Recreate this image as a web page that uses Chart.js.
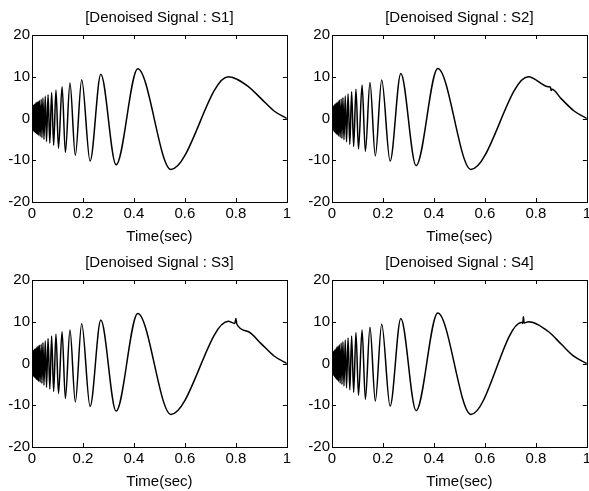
<!DOCTYPE html>
<html>
<head>
<meta charset="utf-8">
<script src="https://cdn.jsdelivr.net/npm/chart.js@4.4.1/dist/chart.umd.min.js"></script>
<style>
  body { margin: 0; background: #fff; overflow: hidden; }
  .panel { position: absolute; width: 294px; height: 246px; }
</style>
</head>
<body>
<div class="panel" style="left:0;top:0"><canvas id="c1"></canvas></div>
<div class="panel" style="left:300px;top:0"><canvas id="c2"></canvas></div>
<div class="panel" style="left:0;top:245px"><canvas id="c3"></canvas></div>
<div class="panel" style="left:300px;top:245px"><canvas id="c4"></canvas></div>
<script>
// times: peaks and troughs, plus a few tail points
const time = [0, 0.0006, 0.002, 0.003, 0.0045, 0.006, 0.0075, 0.009, 0.011, 0.013,
  0.015, 0.017, 0.019, 0.021, 0.024, 0.026, 0.029, 0.032, 0.036, 0.039,
  0.043, 0.047, 0.052, 0.057, 0.063, 0.070, 0.077, 0.085, 0.094, 0.104,
  0.118, 0.131, 0.149, 0.170, 0.195, 0.228, 0.270, 0.330, 0.415, 0.545,
  0.770, 0.850, 0.900, 0.950, 1.000];

const s1 = [0, -1.8, 2.4, -2.6, 3.0, -3.0, 3.3, -3.2, 3.5, -3.4,
  3.7, -3.6, 3.9, -3.8, 4.1, -4.0, 4.3, -4.3, 4.6, -4.6,
  4.9, -5.0, 5.3, -5.5, 5.7, -5.9, 6.2, -6.4, 6.8, -7.1,
  7.6, -8.1, 8.5, -8.8, 9.3, -10.2, 10.6, -11.1, 11.9, -12.2,
  10.0, 7.6, 4.7, 1.8, 0];

const s2 = [0, -1.6, 2.2, -2.5, 2.8, -2.9, 3.1, -3.2, 3.4, -3.4,
  3.6, -3.7, 3.8, -3.9, 4.1, -4.2, 4.4, -4.5, 4.7, -4.8,
  5.0, -5.1, 5.4, -5.6, 5.9, -6.2, 6.4, -6.7, 7.0, -7.3,
  8.0, -7.9, 8.6, -9.0, 9.2, -10.2, 10.8, -11.3, 12.0, -12.2,
  10.0, 7.6, 4.7, 1.8, 0];

const s3 = [0, -1.7, 2.3, -2.7, 3.0, -3.1, 3.3, -3.3, 3.5, -3.5,
  3.6, -3.8, 3.9, -4.0, 4.2, -4.3, 4.4, -4.5, 4.6, -4.8,
  5.0, -5.2, 5.4, -5.7, 6.0, -6.1, 6.6, -6.7, 7.0, -7.2,
  7.6, -8.4, 8.0, -9.2, 9.5, -10.3, 10.4, -11.4, 12.0, -12.2,
  10.1, 7.6, 4.7, 1.8, 0];

const s4 = [0, -1.5, 2.1, -2.4, 2.7, -2.8, 3.0, -3.1, 3.3, -3.4,
  3.5, -3.7, 3.9, -4.0, 4.2, -4.3, 4.5, -4.7, 4.9, -5.0,
  5.2, -5.4, 5.6, -5.8, 6.1, -6.3, 6.6, -6.9, 7.4, -7.6,
  8.0, -8.6, 8.7, -9.0, 9.4, -10.2, 10.8, -11.3, 12.1, -12.2,
  10.0, 7.6, 4.6, 1.7, 0];

// small glitches seen on some denoised curves
const glitchT2 = [0.857, 0.860, 0.863];
const glitchY2 = [7.5, 6.7, 7.0];
const glitchT3 = [0.796, 0.800, 0.804];
const glitchY3 = [9.6, 10.8, 9.4];
const glitchT4 = [0.745, 0.749, 0.751, 0.754];
const glitchY4 = [9.9, 9.6, 11.2, 9.7];

const titles = ['[Denoised Signal : S1]', '[Denoised Signal : S2]',
  '[Denoised Signal : S3]', '[Denoised Signal : S4]'];
const xTicks = [0, 0.2, 0.4, 0.6, 0.8, 1];
const yTicks = [-20, -10, 0, 10, 20];

const FONT = { family: '"Liberation Sans", Arial, sans-serif', size: 15 };

// MATLAB style box with inward tick marks
const boxTicks = {
  id: 'boxTicks',
  afterDraw(chart) {
    const ctx = chart.ctx;
    const a = chart.chartArea;
    const sx = chart.scales.x, sy = chart.scales.y;
    ctx.save();
    ctx.strokeStyle = '#000';
    ctx.lineWidth = 1;
    ctx.strokeRect(Math.round(a.left) + 0.5, Math.round(a.top) + 0.5,
      Math.round(a.right - a.left), Math.round(a.bottom - a.top));
    ctx.beginPath();
    xTicks.forEach(v => {
      const px = Math.round(sx.getPixelForValue(v)) + 0.5;
      ctx.moveTo(px, a.bottom); ctx.lineTo(px, a.bottom - 4);
      ctx.moveTo(px, a.top); ctx.lineTo(px, a.top + 4);
    });
    yTicks.forEach(v => {
      const py = Math.round(sy.getPixelForValue(v)) + 0.5;
      ctx.moveTo(a.left, py); ctx.lineTo(a.left + 4, py);
      ctx.moveTo(a.right, py); ctx.lineTo(a.right - 4, py);
    });
    ctx.stroke();
    ctx.restore();
  }
};

function makeChart(id, values, gt, gy, title) {
  const pts = time.map((t, i) => ({ x: t, y: values[i] }));
  gt.forEach((t, i) => pts.push({ x: t, y: gy[i] }));
  pts.sort((p, q) => p.x - q.x);
  return new Chart(document.getElementById(id), {
    type: 'line',
    data: {
      datasets: [{
        data: pts,
        borderColor: '#000',
        borderWidth: 1.5,
        pointRadius: 0,
        fill: false,
        cubicInterpolationMode: 'monotone'
      }]
    },
    options: {
      responsive: true,
      maintainAspectRatio: false,
      animation: false,
      devicePixelRatio: 1,
      layout: { padding: { right: 7, bottom: 0 } },
      plugins: {
        legend: { display: false },
        tooltip: { enabled: false },
        title: {
          display: true,
          text: title,
          fullSize: false,
          color: '#000',
          font: { ...FONT, weight: 'normal' },
          padding: { top: 9, bottom: 8 }
        }
      },
      scales: {
        x: {
          type: 'linear',
          min: 0,
          max: 1,
          afterBuildTicks: s => { s.ticks = xTicks.map(v => ({ value: v })); },
          grid: { display: false, drawTicks: false },
          border: { display: false },
          ticks: {
            color: '#000', font: FONT, padding: 3, maxRotation: 0, autoSkip: false,
            callback: v => String(v)
          },
          title: {
            display: true,
            text: 'Time(sec)',
            color: '#000',
            font: FONT,
            padding: { top: 2, bottom: 0 }
          }
        },
        y: {
          min: -20,
          max: 20,
          afterBuildTicks: s => { s.ticks = yTicks.map(v => ({ value: v })); },
          afterFit: s => { s.width = 32; },
          grid: { display: false, drawTicks: false },
          border: { display: false },
          ticks: { color: '#000', font: FONT, padding: 2 }
        }
      }
    },
    plugins: [boxTicks]
  });
}

makeChart('c1', s1, [], [], titles[0]);
makeChart('c2', s2, glitchT2, glitchY2, titles[1]);
makeChart('c3', s3, glitchT3, glitchY3, titles[2]);
makeChart('c4', s4, glitchT4, glitchY4, titles[3]);
</script>
</body>
</html>
